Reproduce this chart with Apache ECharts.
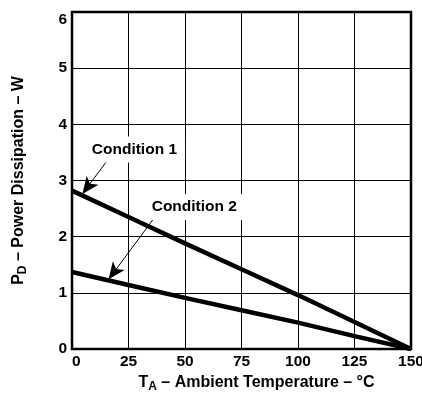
<!DOCTYPE html>
<html>
<head>
<meta charset="utf-8">
<script src="https://cdn.jsdelivr.net/npm/echarts@6/dist/echarts.min.js"></script>
<style>
  html, body {margin: 0; padding: 0; background: #fff;}
  #chart {width: 422px; height: 393px;}
</style>
</head>
<body>
<div id="chart"></div>
<script>
// ambient temperature (°C) and derating curves (W)
const temps = [0, 25, 50, 75, 100, 125, 150];
const condition1 = [2.82, 2.35, 1.88, 1.42, 0.96, 0.48, 0];
const condition2 = [1.37, 1.14, 0.91, 0.69, 0.47, 0.23, 0];

// annotations, in data units
const labelNames = ['Condition 1', 'Condition 2'];
const labelAt = [[28.5, 3.55], [55.0, 2.53]];
const arrowFrom = [[16.8, 3.42], [37.6, 2.40]];
const arrowTo = [[4.6, 2.76], [16.2, 1.24]];

const font = 'Liberation Sans, Arial, sans-serif';

const chart = echarts.init(document.getElementById('chart'));

const pairs = (xs, ys) => xs.map((x, i) => [x, ys[i]]);

const titleRich = {
  b: {fontSize: 16, fontWeight: 'bold', color: '#000', fontFamily: font},
  s: {fontSize: 12, fontWeight: 'bold', color: '#000', fontFamily: font, padding: [8, 0, 0, 0]}
};

chart.setOption({
  animation: false,
  textStyle: {fontFamily: font},
  grid: {
    left: 72, right: 11, top: 12, bottom: 44,
    outerBoundsMode: 'none',
    show: true, borderColor: '#000', borderWidth: 2.5
  },
  xAxis: {
    type: 'value',
    min: 0, max: 150, interval: 25,
    axisLine: {show: false},
    axisTick: {show: false},
    splitLine: {lineStyle: {color: '#000', width: 1}},
    axisLabel: {
      color: '#000', fontSize: 15.5, fontWeight: 'bold', fontFamily: font, margin: 5,
      alignMinLabel: 'left'
    },
    name: '{b|T}{s|A}{b| – Ambient Temperature – °C}',
    nameLocation: 'middle',
    nameGap: 24,
    nameTextStyle: {padding: [0, 0, 0, 30], rich: titleRich}
  },
  yAxis: {
    type: 'value',
    min: 0, max: 6, interval: 1,
    axisLine: {show: false},
    axisTick: {show: false},
    splitLine: {lineStyle: {color: '#000', width: 1}},
    axisLabel: {
      color: '#000', fontSize: 15.5, fontWeight: 'bold', fontFamily: font, margin: 5,
      verticalAlignMaxLabel: 'top'
    },
    name: '{b|P}{s|D}{b| – Power Dissipation – W}',
    nameLocation: 'middle',
    nameGap: 43,
    nameTextStyle: {rich: titleRich}
  },
  series: [
    {
      name: labelNames[0],
      type: 'line',
      data: pairs(temps, condition1),
      symbol: 'none',
      lineStyle: {color: '#000', width: 4.5},
      z: 3
    },
    {
      name: labelNames[1],
      type: 'line',
      data: pairs(temps, condition2),
      symbol: 'none',
      lineStyle: {color: '#000', width: 4.5},
      z: 3,
      markLine: {
        silent: true,
        symbol: ['none', 'arrow'],
        symbolSize: [11, 17],
        label: {show: false},
        itemStyle: {color: '#000'},
        lineStyle: {color: '#000', width: 1, type: 'solid'},
        data: arrowFrom.map((p, i) => [{coord: p}, {coord: arrowTo[i]}])
      },
      markPoint: {
        silent: true,
        symbol: 'circle',
        symbolSize: 1,
        itemStyle: {color: 'rgba(0,0,0,0)'},
        label: {
          show: true,
          position: 'inside',
          color: '#000',
          fontSize: 15.5,
          fontWeight: 'bold',
          fontFamily: font,
          backgroundColor: '#fff',
          padding: [5, 8, 5, 4],
          formatter: p => p.name
        },
        data: labelAt.map((p, i) => ({name: labelNames[i], coord: p}))
      }
    }
  ]
});
</script>
</body>
</html>
